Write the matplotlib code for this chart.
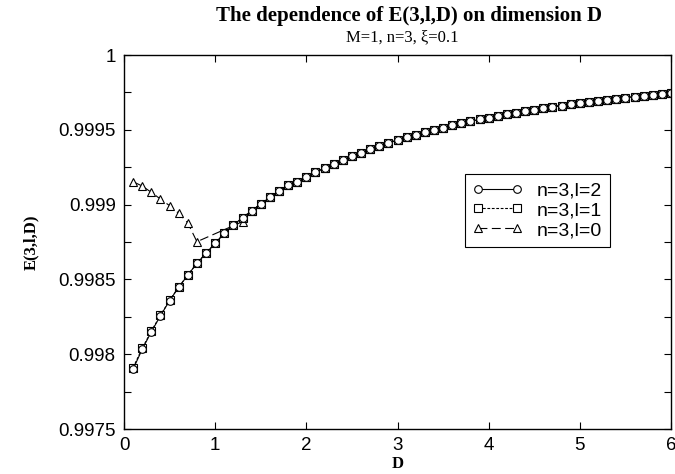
import matplotlib
matplotlib.use("Agg")
import matplotlib.pyplot as plt
from matplotlib.ticker import MultipleLocator, FixedFormatter, FixedLocator

# D values (0.1 .. 6.0)
D = [round(0.1 * i, 1) for i in range(1, 61)]

# E(3,2,D)
E_l2 = [0.997901, 0.998033, 0.998150, 0.998257, 0.998358, 0.998447, 0.998529, 0.998607,
        0.998675, 0.998741, 0.998808, 0.998864, 0.998912, 0.998959, 0.999004, 0.999049,
        0.999091, 0.999131, 0.999150, 0.999184, 0.999215, 0.999245, 0.999273, 0.999299,
        0.999324, 0.999348, 0.999371, 0.999392, 0.999412, 0.999431, 0.999450, 0.999467,
        0.999484, 0.999500, 0.999515, 0.999529, 0.999543, 0.999557, 0.999569, 0.999581,
        0.999593, 0.999604, 0.999615, 0.999625, 0.999635, 0.999644, 0.999654, 0.999662,
        0.999671, 0.999679, 0.999687, 0.999694, 0.999702, 0.999709, 0.999715, 0.999722,
        0.999728, 0.999734, 0.999740, 0.999746]
# E(3,1,D) practically coincides with l=2
E_l1 = [0.997910, 0.998040, 0.998155, 0.998260, 0.998360, 0.998449, 0.998530, 0.998608,
        0.998676, 0.998742, 0.998808, 0.998864, 0.998912, 0.998959, 0.999004, 0.999049,
        0.999091, 0.999131, 0.999150, 0.999184, 0.999215, 0.999245, 0.999273, 0.999299,
        0.999324, 0.999348, 0.999371, 0.999392, 0.999412, 0.999431, 0.999450, 0.999467,
        0.999484, 0.999500, 0.999515, 0.999529, 0.999543, 0.999557, 0.999569, 0.999581,
        0.999593, 0.999604, 0.999615, 0.999625, 0.999635, 0.999644, 0.999654, 0.999662,
        0.999671, 0.999679, 0.999687, 0.999694, 0.999702, 0.999709, 0.999715, 0.999722,
        0.999728, 0.999734, 0.999740, 0.999746]
# E(3,0,D): points at D=0.1..0.8 and D>=1.3
D_l0 = [0.1, 0.2, 0.3, 0.4, 0.5, 0.6, 0.7, 0.8] + D[12:]
E_l0 = [0.999153, 0.999124, 0.999082, 0.999037, 0.998993, 0.998942, 0.998877, 0.998752,
        0.998886] + E_l2[13:]

labels = ["n=3,l=2", "n=3,l=1", "n=3,l=0"]
yticks = [0.9975, 0.998, 0.9985, 0.999, 0.9995, 1.0]
ytick_labels = ["0.9975", "0.998", "0.9985", "0.999", "0.9995", "1"]
xticks = [0, 1, 2, 3, 4, 5, 6]

fig = plt.figure(figsize=(6.75, 4.74), dpi=100)
ax = fig.add_axes([124 / 675, 1 - 429 / 474, 547 / 675, 374 / 474])

mk = dict(markerfacecolor="white", markeredgecolor="black", markeredgewidth=0.8,
          markersize=5.5, color="black", linewidth=0.8)
ax.plot(D_l0, E_l0, linestyle=(0, (8, 4)), marker="^", label=labels[2], **mk)
ax.plot(D, E_l1, linestyle=(0, (2.5, 1.5)), marker="s", label=labels[1], **mk)
ax.plot(D, E_l2, linestyle="-", marker="o", label=labels[0], **mk)

ax.set_xlim(0, 6)
ax.set_ylim(0.9975, 1.0)
ax.xaxis.set_major_locator(FixedLocator(xticks))
ax.set_xticklabels([str(x) for x in xticks])
ax.yaxis.set_major_locator(FixedLocator(yticks))
ax.yaxis.set_major_formatter(FixedFormatter(ytick_labels))
ax.yaxis.set_minor_locator(MultipleLocator(0.00025))
ax.tick_params(which="both", direction="in", top=True, right=True, length=5, width=0.8)
ax.tick_params(which="major", labelsize=13.5, pad=6)
for lab in ax.get_xticklabels() + ax.get_yticklabels():
    lab.set_fontfamily("Liberation Sans")
for s in ax.spines.values():
    s.set_linewidth(1.0)

ax.set_xlabel("D", fontfamily="Liberation Serif", fontweight="bold", fontsize=12, labelpad=1)
ax.set_ylabel("E(3,l,D)", fontfamily="Liberation Serif", fontweight="bold", fontsize=12, labelpad=14)

fig.text(409 / 675, 1 - 16 / 474, "The dependence of E(3,l,D) on dimension D",
         ha="center", va="center", fontfamily="Liberation Serif", fontweight="bold", fontsize=15)
fig.text(402 / 675, 1 - 37 / 474, "M=1, n=3, ξ=0.1",
         ha="center", va="center", fontfamily="Liberation Serif", fontsize=12)

handles, labs = ax.get_legend_handles_labels()
order = [2, 1, 0]
leg = ax.legend([handles[i] for i in order], [labs[i] for i in order],
                loc="upper left", bbox_to_anchor=(0.623, 0.682), borderaxespad=0,
                numpoints=2, handlelength=2.6, fancybox=False, edgecolor="black",
                framealpha=1, prop={"family": "Liberation Sans", "size": 14},
                borderpad=0.4, labelspacing=0.12, handletextpad=0.7)
leg.get_frame().set_linewidth(0.8)

fig.savefig("out.png", dpi=100)
